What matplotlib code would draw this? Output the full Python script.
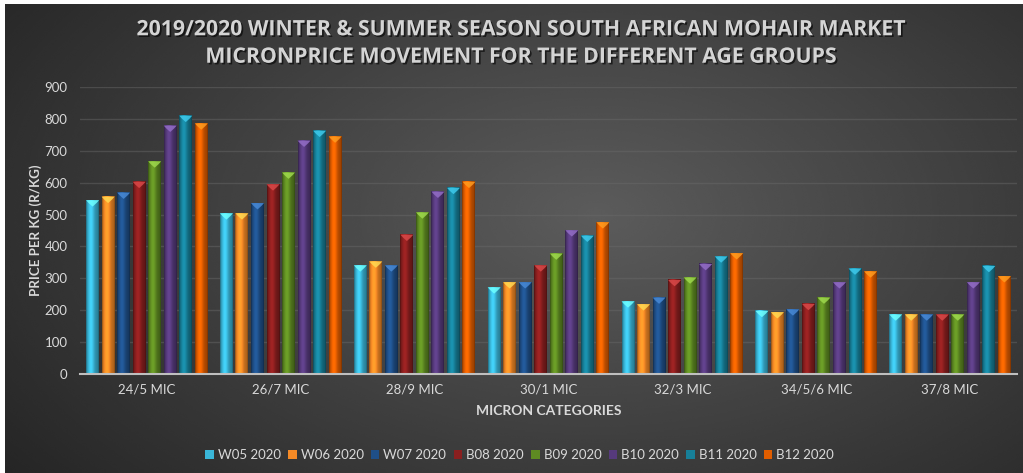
import numpy as np
import matplotlib
matplotlib.use('Agg')
from matplotlib import pyplot as plt
from matplotlib import colors as mcolors
from matplotlib.patches import Polygon, Rectangle
import matplotlib.patheffects as pe

# 类别和系列
categories = ['24/5 MIC', '26/7 MIC', '28/9 MIC', '30/1 MIC', '32/3 MIC', '34/5/6 MIC', '37/8 MIC']
series = ['W05 2020', 'W06 2020', 'W07 2020', 'B08 2020', 'B09 2020', 'B10 2020', 'B11 2020', 'B12 2020']
w05 = [545, 504, 341, 272, 228, 198, 187]
w06 = [556, 504, 353, 288, 219, 194, 187]
w07 = [569, 536, 341, 288, 240, 203, 187]
b08 = [603, 595, 437, 341, 295, 220, 187]
b09 = [667, 632, 507, 378, 303, 240, 187]
b10 = [779, 732, 572, 451, 345, 288, 288]
b11 = [810, 763, 584, 434, 369, 331, 339]
b12 = [786, 745, 603, 476, 379, 322, 307]
values = [w05, w06, w07, b08, b09, b10, b11, b12]
bar_colors = ['#3ab6d8', '#f58a26', '#1f4f88', '#8a1f1f', '#5e8a22', '#563a7c', '#177f98', '#e05d00']

txt = '#d9d9d9'
plt.rcParams['font.family'] = ['Lato', 'DejaVu Sans']

fig = plt.figure(figsize=(10.23, 4.73), dpi=100)
fig.patch.set_facecolor('white')

# 背景渐变
bg = fig.add_axes([5 / 1023, 0, 1018 / 1023, 469 / 473], zorder=-10)
yy, xx = np.mgrid[0:1:300j, 0:1:600j]
r = np.sqrt(((xx - 0.58) / 0.75) ** 2 + ((yy - 0.45) / 0.95) ** 2)
shade = np.clip(0.36 - 0.22 * r, 0.11, 0.36)
bg.imshow(shade, cmap='gray', vmin=0, vmax=1, aspect='auto', extent=[0, 1, 0, 1], interpolation='bicubic')
bg.axis('off')

ax = fig.add_axes([80 / 1023, 1 - 374 / 473, 937 / 1023, 287 / 473])
ax.set_facecolor('none')

pitch = 0.116
bw = 0.097
prof = np.linspace(0, 1, 40)
light = 0.72 + 0.45 * np.exp(-((prof - 0.38) / 0.28) ** 2)
light[0:3] *= 0.8
light[-3:] *= 0.8
cap_h = 20

for j, (vals, c) in enumerate(zip(values, bar_colors)):
    base = np.array(mcolors.to_rgb(c))
    grad = np.clip(base[None, None, :] * light[None, :, None], 0, 1)
    for i, v in enumerate(vals):
        x0 = i + (j - 3.5) * pitch - bw / 2
        x1 = x0 + bw
        ax.imshow(grad, extent=[x0, x1, 0, v], aspect='auto', zorder=2, interpolation='bilinear')
        cap = np.clip(base * 1.35 + 0.12, 0, 1)
        ax.add_patch(Polygon([(x0, v), (x1, v), (x1 - bw * 0.2, v - cap_h * 0.45),
                              ((x0 + x1) / 2, v - cap_h), (x0 + bw * 0.2, v - cap_h * 0.45)],
                             closed=True, facecolor=cap, edgecolor='none', alpha=0.85, zorder=3))
ax.set_xlim(-0.5, len(categories) - 0.5)
ax.set_ylim(0, 900)

ax.set_yticks(range(0, 901, 100))
ax.grid(axis='y', color='#6a6a6a', linewidth=1, alpha=0.45)
ax.set_axisbelow(True)
for s in ['top', 'right', 'left']:
    ax.spines[s].set_visible(False)
ax.spines['bottom'].set_color('#bfbfbf')
ax.spines['bottom'].set_linewidth(1.5)
ax.spines['bottom'].set_zorder(5)
ax.set_xticks(range(len(categories)))
ax.set_xticklabels(categories)
ax.tick_params(axis='both', length=0, colors=txt, labelsize=9.5)
ax.tick_params(axis='x', pad=7)
ax.tick_params(axis='y', pad=9)

ax.set_xlabel('MICRON CATEGORIES', color=txt, fontsize=10, fontweight='bold', labelpad=7)
fig.text(0.035, 1 - 230 / 473, 'PRICE PER KG (R/KG)', rotation=90, color=txt, fontsize=9.6,
         fontweight='bold', ha='center', va='center')

shadow = [pe.SimplePatchShadow(offset=(1.2, -1.2), shadow_rgbFace='black', alpha=0.6), pe.Normal()]
fig.text(0.509, 0.937, '2019/2020 WINTER & SUMMER SEASON SOUTH AFRICAN MOHAIR MARKET',
         color='#d4d4d4', fontsize=15.3, fontweight='bold', ha='center', va='center',
         family=['Open Sans', 'DejaVu Sans'], path_effects=shadow)
fig.text(0.509, 0.879, 'MICRONPRICE MOVEMENT FOR THE DIFFERENT AGE GROUPS',
         color='#d4d4d4', fontsize=15.3, fontweight='bold', ha='center', va='center',
         family=['Open Sans', 'DejaVu Sans'], path_effects=shadow)

handles = [Rectangle((0, 0), 1, 1, facecolor=c, edgecolor='none') for c in bar_colors]
leg = fig.legend(handles, series, loc='center', bbox_to_anchor=(0.508, 0.038), ncol=8,
                 frameon=False, fontsize=9.5, handlelength=0.65, handleheight=0.65,
                 handletextpad=0.3, columnspacing=0.55)
for t in leg.get_texts():
    t.set_color(txt)

fig.savefig('out.png', dpi=100)
